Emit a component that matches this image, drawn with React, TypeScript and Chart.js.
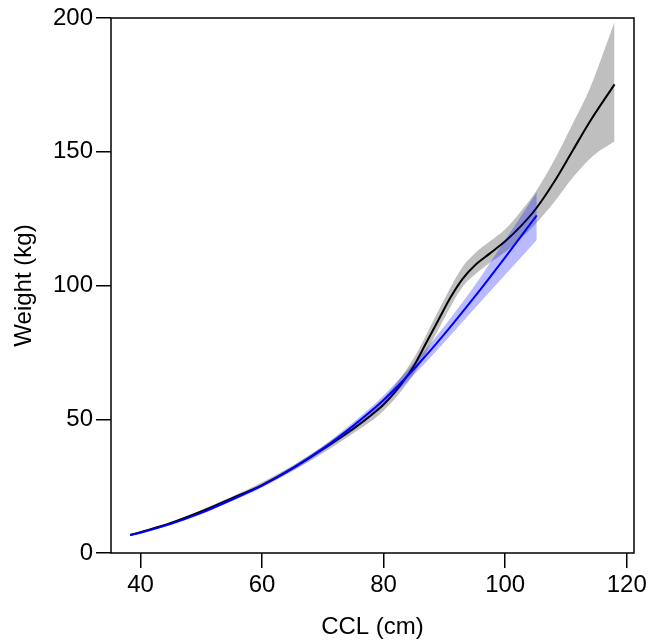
import { useEffect, useRef } from 'react';
import { Chart, registerables } from 'chart.js';

Chart.register(...registerables);

const FONT = '"Liberation Sans", Arial, Helvetica, sans-serif';

// Axis ticks
const xTicks = [40, 60, 80, 100, 120];
const yTicks = [0, 50, 100, 150, 200];

// Black fitted curve (CCL cm -> Weight kg)
const blackX = [38.3, 40, 45, 50, 55, 60, 65, 70, 75, 78, 80, 82, 85, 87, 89, 91, 93, 95, 97.5, 100, 102.5, 105, 108, 111, 114, 118];
const blackY = [6.7, 7.8, 11.2, 15.5, 20.4, 25.4, 31.6, 38.8, 46.4, 51.6, 55.5, 60.5, 70.0, 78.5, 87.0, 95.5, 102.5, 107.5, 112.0, 116.5, 122.0, 128.5, 138.5, 150.0, 161.5, 175.2];

// Grey confidence band around black curve
const grayX = [38.3, 45, 55, 65, 75, 80, 85, 89, 93, 95, 97.5, 100, 102.5, 105, 108, 111, 114, 116, 118];
const grayUpper = [7.0, 11.6, 21.0, 32.6, 48.0, 57.8, 73.0, 90.5, 107, 112, 116.5, 121, 127.5, 135, 146.5, 160, 174, 186, 198.6];
const grayLower = [6.4, 10.8, 19.8, 30.6, 44.8, 53.2, 67.0, 83.5, 99.5, 104, 108.5, 112.5, 117.5, 123, 131, 140, 147.5, 151, 153.8];

// Blue fitted curve
const blueX = [38.3, 40, 45, 50, 55, 60, 65, 70, 75, 80, 85, 90, 95, 100, 105.2];
const blueY = [6.7, 7.6, 10.9, 15.0, 19.9, 25.2, 31.6, 39.0, 47.6, 57.2, 68.8, 81.8, 95.8, 110.5, 126.2];
const blueUpper = [6.9, 7.9, 11.3, 15.5, 20.5, 25.9, 32.4, 40.0, 48.9, 58.9, 71.0, 84.8, 100.0, 117.0, 135.0];
const blueLower = [6.5, 7.3, 10.5, 14.5, 19.3, 24.5, 30.8, 38.0, 46.3, 55.5, 66.6, 78.8, 91.5, 104.0, 117.0];

const xTitle = 'CCL (cm)';
const yTitle = 'Weight (kg)';

const pts = (xs: number[], ys: number[]) => xs.map((x, i) => ({ x, y: ys[i] }));

const framePlugin = {
  id: 'frame',
  afterDraw(chart: any) {
    const { ctx, chartArea } = chart;
    const { left, top, right, bottom } = chartArea;
    ctx.save();
    ctx.strokeStyle = '#000';
    ctx.lineWidth = 1.5;
    ctx.strokeRect(left, top, right - left, bottom - top);
    ctx.fillStyle = '#000';
    ctx.font = `24px ${FONT}`;
    ctx.textAlign = 'center';
    ctx.textBaseline = 'middle';
    ctx.fillText(xTitle, (left + right) / 2, 627);
    ctx.translate(24, (top + bottom) / 2);
    ctx.rotate(-Math.PI / 2);
    ctx.fillText(yTitle, 0, 0);
    ctx.restore();
  },
};

export default function App() {
  const ref = useRef<HTMLCanvasElement>(null);
  useEffect(() => {
    const common = { pointRadius: 0, pointHoverRadius: 0, cubicInterpolationMode: 'monotone' as const };
    const chart = new Chart(ref.current as HTMLCanvasElement, {
      type: 'line',
      data: {
        datasets: [
          { ...common, data: pts(grayX, grayUpper), borderWidth: 0, borderColor: 'rgba(0,0,0,0)', backgroundColor: 'rgb(191,191,191)', fill: '+1', order: 6 },
          { ...common, data: pts(grayX, grayLower), borderWidth: 0, borderColor: 'rgba(0,0,0,0)', fill: false, order: 6 },
          { ...common, data: pts(blackX, blackY), borderWidth: 2, borderColor: '#000000', fill: false, order: 5 },
          { ...common, data: pts(blueX, blueUpper), borderWidth: 0, borderColor: 'rgba(0,0,0,0)', backgroundColor: 'rgba(0,0,255,0.27)', fill: '+1', order: 4 },
          { ...common, data: pts(blueX, blueLower), borderWidth: 0, borderColor: 'rgba(0,0,0,0)', fill: false, order: 4 },
          { ...common, data: pts(blueX, blueY), borderWidth: 2, borderColor: '#0000ff', fill: false, order: 1 },
        ] as any,
      },
      options: {
        responsive: false,
        animation: false,
        events: [],
        layout: { padding: { left: 0, top: 18, right: 16, bottom: 0 } },
        plugins: {
          legend: { display: false },
          tooltip: { enabled: false },
          filler: { drawTime: 'beforeDatasetDraw' } as any,
        },
        scales: {
          x: {
            type: 'linear',
            min: 35.15,
            max: 121.2,
            afterBuildTicks: (scale: any) => { scale.ticks = xTicks.map((v) => ({ value: v })); },
            afterFit: (scale: any) => { scale.height = 89; },
            grid: { drawOnChartArea: false, drawTicks: true, tickLength: 15, tickColor: '#000', lineWidth: 1.5 },
            border: { display: false },
            ticks: { color: '#000', font: { size: 24, family: FONT }, padding: 3, maxRotation: 0, autoSkip: false },
          },
          y: {
            type: 'linear',
            min: 0,
            max: 200,
            afterBuildTicks: (scale: any) => { scale.ticks = yTicks.map((v) => ({ value: v })); },
            afterFit: (scale: any) => { scale.width = 111; },
            grid: { drawOnChartArea: false, drawTicks: true, tickLength: 15, tickColor: '#000', lineWidth: 1.5 },
            border: { display: false },
            ticks: { color: '#000', font: { size: 24, family: FONT }, padding: 3, autoSkip: false },
          },
        },
      },
      plugins: [framePlugin],
    });
    return () => chart.destroy();
  }, []);
  return (
    <div style={{ position: 'fixed', left: 0, top: 0, width: 650, height: 642, background: '#fff' }}>
      <canvas ref={ref} width={650} height={642} style={{ display: 'block' }} />
    </div>
  );
}
